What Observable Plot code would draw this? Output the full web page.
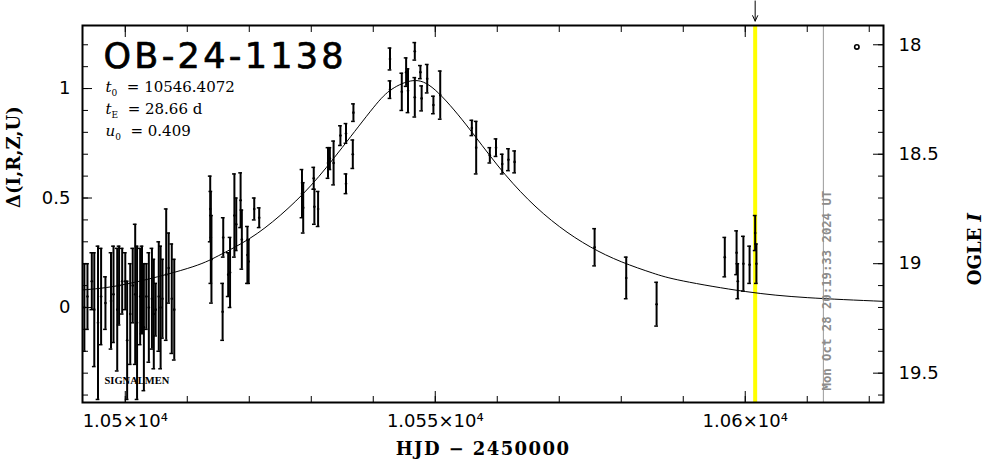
<!DOCTYPE html>
<html><head><meta charset="utf-8">
<script src="https://cdn.jsdelivr.net/npm/d3@7"></script>
<script src="https://cdn.jsdelivr.net/npm/@observablehq/plot@0.6"></script>
<style>
body{margin:0;background:#fff;}
#chart svg{display:block;}
.title-text text{letter-spacing:3.3px;}
.hjd-label text{letter-spacing:1.4px;}
</style></head><body><div id="chart"></div>
<script>
// ---- data ----
const eventName = "OB-24-1138";
const paramSymbols = ["t", "t", "u"];
const paramSubscripts = ["0", "E", "0"];
const paramValues = ["10546.4072", "28.66 d", "0.409"];
const surveyTag = "SIGNALMEN";
const stampText = "Mon Oct 28 20:19:33 2024 UT";

const obsT = [
  10493.4,10493.9,10494.6,10495.0,10495.6,10496.1,10496.8,10497.7,10498.1,10498.7,
  10499.0,10499.5,10500.0,10500.3,10500.8,10501.2,10501.6,10501.9,10502.4,10502.7,
  10503.0,10503.4,10503.8,10504.3,10504.6,10504.9,10505.4,10505.7,10506.0,10506.6,
  10507.0,10507.5,10507.9,
  10513.7,10513.8,10513.9,10515.8,10515.7,10516.6,10516.9,10517.6,10517.9,10518.6,
  10518.8,10519.7,10519.9,10520.8,10521.6,
  10528.5,10528.7,10530.4,10530.5,10531.1,10532.7,10533.0,10533.6,10534.7,10535.6,
  10535.6,10536.7,10536.8,10542.7,10542.7,10544.6,10545.3,10545.6,10546.7,10546.7,
  10547.6,10547.8,10548.7,10549.7,10550.8,
  10555.9,10556.6,10558.8,10559.8,10560.8,10561.8,10562.8,
  10575.7,10580.8,10585.7,10596.7,10598.6,10598.8,10599.7,10600.7,10601.6,10601.8
];
const obsDelta = [
  0.00,0.05,0.12,-0.01,-0.07,0.05,0.02,0.03,0.06,-0.01,
  0.10,0.12,0.12,-0.15,-0.03,0.10,0.06,-0.07,0.05,0.08,
  -0.09,0.05,0.00,0.04,-0.03,-0.01,0.05,0.00,0.04,0.15,
  0.18,0.04,-0.01,
  0.45,0.32,0.22,0.32,-0.02,0.15,0.16,0.42,0.38,0.49,
  0.31,0.24,0.21,0.45,0.41,
  0.52,0.455,0.59,0.46,0.45,0.66,0.68,0.66,0.785,0.795,
  0.565,0.70,0.89,1.135,0.995,0.985,1.075,0.99,1.17,0.96,
  1.075,0.955,1.045,0.925,0.97,
  0.82,0.73,0.695,0.73,0.655,0.675,0.665,
  0.275,0.135,0.015,0.23,0.25,0.12,0.20,0.195,0.34,0.20
];
const obsErr = [
  0.20,0.15,0.13,0.26,0.35,0.22,0.12,0.22,0.22,0.28,
  0.18,0.15,0.13,0.27,0.23,0.17,0.32,0.35,0.22,0.20,
  0.29,0.15,0.25,0.23,0.25,0.12,0.25,0.28,0.18,0.30,
  0.16,0.25,0.23,
  0.15,0.21,0.20,0.09,0.13,0.10,0.16,0.19,0.12,0.125,
  0.135,0.13,0.10,0.05,0.045,
  0.11,0.115,0.05,0.08,0.08,0.07,0.05,0.10,0.045,0.045,
  0.045,0.065,0.04,0.05,0.04,0.085,0.065,0.10,0.04,0.09,
  0.03,0.057,0.065,0.04,0.11,
  0.035,0.12,0.035,0.04,0.045,0.05,0.05,
  0.085,0.095,0.10,0.09,0.10,0.08,0.125,0.085,0.08,0.09
];

// model curve
const modelT = [10493,10500,10510,10515,10520,10525,10530,10535,10540,10543,10546.4,
  10550,10555,10560,10565,10570,10575,10580,10585,10590,10600,10610,10622.3];
const modelDelta = [0.08,0.106,0.178,0.236,0.314,0.421,0.559,0.731,0.912,0.997,1.036,
  0.993,0.834,0.651,0.493,0.370,0.277,0.209,0.158,0.121,0.073,0.045,0.028];

const nowT = 10601.6;      // yellow line / arrow
const stampT = 10612.6;    // grey line
const ogleMarkT = [10618];
const ogleMarkDelta = [1.19];
const baselineI = 19.2;

const xMajor = [10500, 10550, 10600];
const xTickLabels = ["1.05×10⁴", "1.055×10⁴", "1.06×10⁴"];
const xMinor = [10500,10510,10520,10530,10540,10550,10560,10570,10580,10590,10600,10610,10620];
const yMajor = [0, 0.5, 1];
const yTickLabels = ["0", "0.5", "1"];
const yMinor = [-0.4,-0.3,-0.2,-0.1,0,0.1,0.2,0.3,0.4,0.5,0.6,0.7,0.8,0.9,1.0,1.1,1.2];
const iMajor = [18, 18.5, 19, 19.5];
const iTickLabels = ["18", "18.5", "19", "19.5"];
const iMinor = [18.0,18.1,18.2,18.3,18.4,18.5,18.6,18.7,18.8,18.9,19.0,19.1,19.2,19.3,19.4,19.5,19.6];

// ---- build ----
const obs = obsT.map((t, i) => ({t, d: obsDelta[i], e: obsErr[i]}));
const model = modelT.map((t, i) => ({t, d: modelDelta[i]}));
const ogleMark = ogleMarkT.map((t, i) => ({t, d: ogleMarkDelta[i]}));
const capHalf = 0.3;
const xDomain = [10493.1, 10622.3];
const yDomain = [-0.434, 1.288];
const toDelta = m => baselineI - m;
const lookup = (vals, labels) => d => {
  const k = vals.findIndex(v => Math.abs(v - d) < 1e-6);
  return k < 0 ? "" : labels[k];
};

const plot = Plot.plot({
  width: 986, height: 459,
  marginLeft: 82, marginRight: 103, marginTop: 25, marginBottom: 57,
  x: {domain: xDomain},
  y: {domain: yDomain},
  style: {fontFamily: "DejaVu Sans", fontSize: "18px", background: "white", color: "black", overflow: "visible"},
  marks: [
    Plot.ruleX([nowT], {stroke: "#ffff00", strokeWidth: 4}),
    Plot.ruleX([stampT], {stroke: "#999999", strokeWidth: 1}),
    Plot.line(model, {x: "t", y: "d", curve: "natural", stroke: "black", strokeWidth: 1, clip: true}),
    Plot.ruleX(obs, {x: "t", y1: d => d.d - d.e, y2: d => d.d + d.e, stroke: "black", strokeWidth: 2, clip: true}),
    Plot.ruleY(obs, {y: d => d.d - d.e, x1: d => d.t - capHalf, x2: d => d.t + capHalf, stroke: "black", strokeWidth: 1.5, clip: true}),
    Plot.ruleY(obs, {y: d => d.d + d.e, x1: d => d.t - capHalf, x2: d => d.t + capHalf, stroke: "black", strokeWidth: 1.5, clip: true}),
    Plot.dot(obs, {x: "t", y: "d", r: 1.3, fill: "black", clip: true}),
    Plot.dot(ogleMark, {x: "t", y: "d", r: 2.2, stroke: "black", strokeWidth: 1.6, fill: "white"}),
    Plot.arrow([nowT], {x: d => d, y1: () => yDomain[1] + 0.112, y2: () => yDomain[1] + 0.02, stroke: "black", strokeWidth: 1, headLength: 9, headAngle: 50}),
    // axes: inward ticks
    Plot.axisX(xMinor, {anchor: "bottom", tickSize: -6, fill: "none"}),
    Plot.axisX(xMajor, {anchor: "bottom", tickSize: -11, fill: "none"}),
    Plot.axisX(xMinor, {anchor: "top", tickSize: -6, fill: "none"}),
    Plot.axisX(xMajor, {anchor: "top", tickSize: -11, fill: "none"}),
    Plot.axisX(xMajor, {anchor: "bottom", tickSize: 0, tickPadding: 12, tickFormat: lookup(xMajor, xTickLabels), label: null, fontSize: 18}),
    Plot.axisY(yMinor, {anchor: "left", tickSize: -6, fill: "none"}),
    Plot.axisY(yMajor, {anchor: "left", tickSize: -10, fill: "none"}),
    Plot.axisY(yMajor, {anchor: "left", tickSize: 0, tickPadding: 12, tickFormat: lookup(yMajor, yTickLabels), label: null, fontSize: 18}),
    Plot.axisY(iMinor.map(toDelta), {anchor: "right", tickSize: -6, fill: "none"}),
    Plot.axisY(iMajor.map(toDelta), {anchor: "right", tickSize: -11, fill: "none"}),
    Plot.axisY(iMajor.map(toDelta), {anchor: "right", tickSize: 0, tickPadding: 15, tickFormat: lookup(iMajor.map(toDelta), iTickLabels), label: null, fontSize: 18}),
    // axis titles
    Plot.text(["HJD − 2450000"], {frameAnchor: "bottom", lineAnchor: "middle", dy: 47, fontFamily: "DejaVu Serif", fontWeight: "bold", fontSize: 18, className: "hjd-label"}),
    Plot.text(["Δ(I,R,Z,U)"], {frameAnchor: "left", lineAnchor: "middle", dx: -68, dy: -6, rotate: -90, fontFamily: "DejaVu Serif", fontWeight: "bold", fontSize: 18}),
    Plot.text(["OGLE I"], {frameAnchor: "right", lineAnchor: "middle", dx: 92, dy: -1, rotate: -90, fontFamily: "DejaVu Serif", fontWeight: "bold", fontSize: 18, className: "ogle-label"}),
    // annotations
    Plot.text([eventName], {frameAnchor: "top-left", lineAnchor: "middle", dx: 21, dy: 31, textAnchor: "start", fontSize: 35, fill: "black", stroke: "black", strokeWidth: 0.7, className: "title-text"}),
    ...paramSymbols.map((s, i) => Plot.text([`${s}${paramSubscripts[i]} = ${paramValues[i]}`], {
      frameAnchor: "top-left", lineAnchor: "middle", dx: 23, dy: 62 + i * 22, textAnchor: "start",
      fontFamily: "DejaVu Serif", fontSize: 15, className: `param${i}`})),
    Plot.text([surveyTag], {frameAnchor: "bottom-left", lineAnchor: "middle", dx: 22, dy: -22, textAnchor: "start", fontFamily: "Liberation Serif", fontWeight: "bold", fontSize: 10.5}),
    Plot.text([stampText], {x: () => stampT, frameAnchor: "bottom", dx: 8, dy: -12, rotate: -90, textAnchor: "start",
      fill: "#8c8c8c", fontFamily: "DejaVu Sans Mono", fontWeight: "bold", fontSize: 12.3}),
    Plot.frame({stroke: "black", strokeWidth: 2})
  ]
});

// italic symbols and subscripts in the parameter lines
const ns = "http://www.w3.org/2000/svg";
paramSymbols.forEach((s, i) => {
  const t = plot.querySelector(`.param${i} text`);
  if (!t) return;
  t.textContent = "";
  const a = document.createElementNS(ns, "tspan");
  a.setAttribute("font-style", "italic"); a.textContent = s;
  const b = document.createElementNS(ns, "tspan");
  b.setAttribute("font-size", "9"); b.setAttribute("dy", "4"); b.textContent = paramSubscripts[i];
  const c = document.createElementNS(ns, "tspan");
  c.setAttribute("dy", "-4"); c.textContent = "  = " + paramValues[i];
  t.append(a, b, c);
});
const ol = plot.querySelector(".ogle-label text");
if (ol) {
  ol.textContent = "OGLE ";
  const it = document.createElementNS(ns, "tspan");
  it.setAttribute("font-style", "italic"); it.textContent = "I";
  ol.append(it);
}
document.getElementById("chart").append(plot);
</script>
</body></html>
